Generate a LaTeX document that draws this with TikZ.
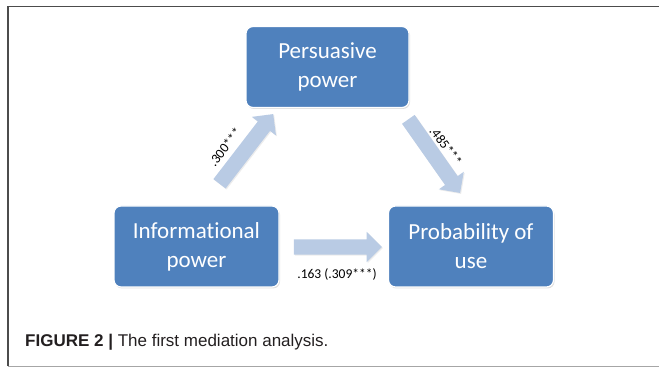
\documentclass[tikz,border=0pt]{standalone}
\usepackage{fontspec}
\setmainfont{Carlito}[Ligatures=NoCommon]
\newfontfamily\capfont{Liberation Sans}
\usetikzlibrary{shapes.arrows,shadows}
\definecolor{boxblue}{HTML}{4F81BD}
\definecolor{arrowblue}{HTML}{B9CBE4}
\definecolor{capgray}{HTML}{231F20}
\tikzset{
  conbox/.style={draw=white, line width=1.2pt, fill=boxblue, rounded corners=7pt,
    minimum width=165pt, minimum height=81pt, text=white, align=center,
    font=\fontsize{23}{29}\selectfont,
    drop shadow={opacity=0.25, shadow xshift=1pt, shadow yshift=-1.5pt}},
  blockarrow/.style={single arrow, fill=arrowblue, draw=none, inner sep=7.5pt,
    single arrow head extend=7.5pt, minimum height=88pt, single arrow tip angle=90,
    drop shadow={opacity=0.15, shadow xshift=1pt, shadow yshift=-1pt}},
  coef/.style={font=\fontsize{13.5}{16}\selectfont, text=black, inner sep=0pt}
}
\begin{document}
\begin{tikzpicture}[x=1pt,y=1pt]
\useasboundingbox (0,0) rectangle (659,367);
% frame
\draw[line width=1.5pt, color=black!70] (8,0.8) -- (8,360.5) -- (659,360.5);
\draw[line width=1pt, color=black!35] (8,0.8) -- (659,0.8);
% boxes
\node[conbox, minimum width=163pt] (pers) at (327.5,300) {Persuasive\\power};
\node[conbox] (info) at (196.5,120.5) {Informational\\power};
\node[conbox] (prob) at (471,120.5) {Probability of\\use};
% arrows
\node[blockarrow, rotate=52.4] (a1) at (244,215) {};
\node[blockarrow, rotate=-54.9, minimum height=90pt] (a2) at (432,214) {};
\node[blockarrow] (a3) at (334,120) {};
% coefficients
\node[coef, rotate=52] (c1) at (225,220) {.300***};
\node[coef, rotate=-53] (c2) at (446,221) {.485***};
\node[coef] (c3) at (337,93) {.163 (.309***)};
% caption
\node[anchor=base west, inner sep=0pt, text=capgray, font=\capfont\fontsize{17}{19}\selectfont] (cap) at (25,20)
  {\textbf{FIGURE 2 |} The first mediation analysis.};
\end{tikzpicture}
\end{document}
